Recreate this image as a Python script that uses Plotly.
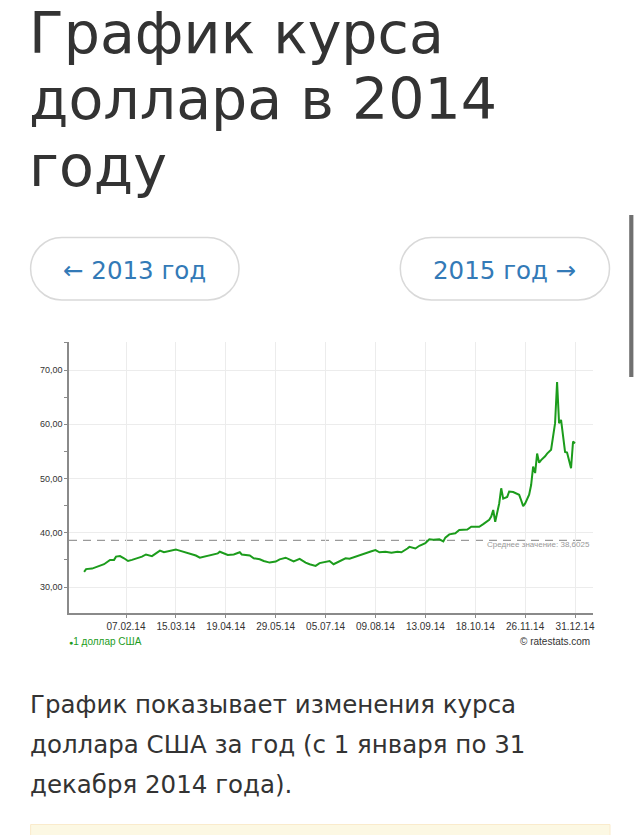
import plotly.graph_objects as go

# ---------------- data ----------------
day_index = [0, 1, 4, 6, 10, 13, 15, 16, 18, 20, 22, 24, 26, 29, 31, 34, 36, 38, 40, 43,
             46, 47, 50, 53, 56, 58, 61, 64, 67, 68, 70, 72, 75, 78, 79, 83, 85, 88, 90, 93,
             96, 98, 101, 103, 105, 108, 111, 113, 116, 118, 121, 123, 125, 128, 131, 133, 136, 138, 142, 144,
             146, 148, 151, 154, 157, 159, 162, 163, 166, 168, 171, 173, 175, 178, 180, 181, 183, 186, 188, 192,
             194, 197, 198, 200, 203, 204, 205, 206, 208, 209, 210, 212, 213, 215, 218, 219, 220, 221, 223, 224,
             225, 226, 227, 228, 229, 231, 232, 234, 235, 236, 237, 238, 239, 240, 241, 242, 243, 244, 245, 246]
usd_rub = [32.8, 33.3, 33.4, 33.7, 34.2, 35.0, 35.0, 35.6, 35.7, 35.3, 34.8, 35.0, 35.2, 35.6, 36.0, 35.7, 36.2, 36.7, 36.4, 36.6,
           36.9, 36.8, 36.5, 36.2, 35.8, 35.4, 35.7, 36.0, 36.2, 36.5, 36.2, 35.9, 36.0, 36.4, 36.0, 35.8, 35.3, 35.1, 34.8, 34.5,
           34.7, 35.1, 35.4, 35.0, 34.7, 35.2, 34.5, 34.2, 33.9, 34.4, 34.7, 34.8, 34.2, 34.7, 35.3, 35.2, 35.6, 35.9, 36.3, 36.6,
           36.8, 36.4, 36.5, 36.3, 36.5, 36.4, 37.1, 37.4, 37.1, 37.6, 38.1, 38.8, 38.7, 38.8, 38.4, 39.1, 39.7, 39.9, 40.5, 40.6,
           41.1, 41.2, 41.1, 41.6, 42.4, 43.0, 44.2, 42.0, 45.4, 48.2, 46.3, 46.6, 47.6, 47.5, 47.0, 46.0, 44.9, 45.4, 47.0, 48.8,
           52.2, 51.0, 54.6, 52.9, 53.4, 54.1, 54.6, 55.3, 57.7, 60.2, 67.8, 60.2, 60.8, 57.7, 54.9, 54.8, 53.1, 51.9, 56.8, 56.5]

tick_index = [21, 46, 71, 96, 121, 146, 171, 196, 221, 246]
tick_dates = ["07.02.14", "15.03.14", "19.04.14", "29.05.14", "05.07.14",
              "09.08.14", "13.09.14", "18.10.14", "26.11.14", "31.12.14"]
y_ticks = [30, 40, 50, 60, 70]
y_tick_labels = ["30,00", "40,00", "50,00", "60,00", "70,00"]
average_value = 38.6025
average_label = "Среднее значение: 38,6025"
series_name = "1 доллар США"

title_lines = ["График курса", "доллара в 2014", "году"]
prev_button = "← 2013 год"
next_button = "2015 год →"
paragraph_lines = ["График показывает изменения курса",
                   "доллара США за год (с 1 января по 31",
                   "декабря 2014 года)."]
credit = "© ratestats.com"

# ---------------- layout helpers ----------------
W, H = 640, 835
FONT = "Liberation Sans, Arial, sans-serif"
PAGE_FONT = "DejaVu Sans, Liberation Sans, sans-serif"
GREEN = "#1c9c1c"


def px(x):
    return x / W


def py(y):
    return 1 - y / H


def pill_path(x0, y0, x1, y1):
    r = (y1 - y0) / 2
    yc = (y0 + y1) / 2
    k = 0.5523 * r
    pts = [
        ("M", [(x0 + r, y0)]),
        ("L", [(x1 - r, y0)]),
        ("C", [(x1 - r + k, y0), (x1, yc - k), (x1, yc)]),
        ("C", [(x1, yc + k), (x1 - r + k, y1), (x1 - r, y1)]),
        ("L", [(x0 + r, y1)]),
        ("C", [(x0 + r - k, y1), (x0, yc + k), (x0, yc)]),
        ("C", [(x0, yc - k), (x0 + r - k, y0), (x0 + r, y0)]),
    ]
    s = ""
    for cmd, ps in pts:
        s += cmd + " " + " ".join(f"{px(a):.5f},{py(b):.5f}" for a, b in ps) + " "
    return s + "Z"


fig = go.Figure()
fig.add_trace(go.Scatter(
    x=day_index, y=usd_rub, mode="lines",
    line=dict(color=GREEN, width=2),
    showlegend=False, hoverinfo="skip",
))

plot_l, plot_r, plot_t, plot_b = 69, 593, 342, 613

fig.update_layout(
    width=W, height=H,
    margin=dict(l=0, r=0, t=0, b=0),
    paper_bgcolor="white", plot_bgcolor="white",
    showlegend=False,
    xaxis=dict(
        domain=[px(plot_l), px(plot_r)],
        range=[-7.57, 255.0],
        tickmode="array", tickvals=tick_index, ticktext=tick_dates,
        showgrid=True, gridcolor="#ececec", gridwidth=1,
        showline=True, linecolor="#8a8a8a", linewidth=1.5,
        ticks="outside", ticklen=3, tickcolor="#8a8a8a",
        tickfont=dict(family=FONT, size=10, color="#333333"),
        zeroline=False, automargin=False, fixedrange=True,
    ),
    yaxis=dict(
        domain=[py(plot_b), py(plot_t)],
        range=[25.21, 75.16],
        tickmode="array", tickvals=y_ticks, ticktext=y_tick_labels,
        showgrid=True, gridcolor="#ececec", gridwidth=1,
        showline=True, linecolor="#8a8a8a", linewidth=1.5,
        ticks="outside", ticklen=3, tickcolor="#8a8a8a",
        minor=dict(tickmode="linear", tick0=0, dtick=5, ticks="outside",
                   ticklen=3, tickcolor="#8a8a8a", showgrid=False),
        tickfont=dict(family=FONT, size=9, color="#333333"),
        zeroline=False, automargin=False, fixedrange=True,
    ),
)

shapes = []
# average dashed line
shapes.append(dict(type="line", xref="x domain", yref="y",
                   x0=0, x1=(581.7 - plot_l) / (plot_r - plot_l),
                   y0=average_value, y1=average_value, layer="below",
                   line=dict(color="#9a9a9a", width=1.2, dash="8px,6px")))
# buttons
for (x0, x1) in [(30.6, 239.0), (400.3, 609.5)]:
    shapes.append(dict(type="path", xref="paper", yref="paper",
                       path=pill_path(x0, 237.5, x1, 300.0),
                       line=dict(color="#d9d9d9", width=1.5),
                       fillcolor="rgba(255,255,255,0)"))
# scrollbar
shapes.append(dict(type="rect", xref="paper", yref="paper",
                   x0=px(629.2), x1=px(633.4), y0=py(377.0), y1=py(215.0),
                   line=dict(width=0), fillcolor="#707070"))
# bottom notice box
shapes.append(dict(type="rect", xref="paper", yref="paper",
                   x0=px(30.6), x1=px(610), y0=py(824.5), y1=py(840),
                   line=dict(color="#faebcc", width=1), fillcolor="#fcf8e3"))
fig.update_layout(shapes=shapes)

ann = []


def text(t, x, y, size, color, xanchor="left", family=FONT):
    ann.append(dict(text=t, x=px(x), y=py(y), xref="paper", yref="paper",
                    xanchor=xanchor, yanchor="middle", showarrow=False,
                    borderpad=0, borderwidth=0,
                    font=dict(family=family, size=size, color=color)))


# title
for i, line in enumerate(title_lines):
    text(line, 29, 33.0 + i * 66.3, 57, "#333333", family=PAGE_FONT)
# buttons text
text(prev_button, 134.8, 270, 24.5, "#337ab7", xanchor="center", family=PAGE_FONT)
text(next_button, 504.9, 270, 24.5, "#337ab7", xanchor="center", family=PAGE_FONT)
# chart extras
text(average_label, 589.5, 544, 8, "#999999", xanchor="right")
text("<span style='font-size:7px'>●</span>" + series_name, 68.5, 641, 10, GREEN)
text(credit, 589.5, 641, 10, "#333333", xanchor="right")
# paragraph
for i, line in enumerate(paragraph_lines):
    text(line, 29.5, 704.5 + i * 40, 24.5, "#333333", family=PAGE_FONT)

fig.update_layout(annotations=ann)

fig.write_html("out.html", config={"displayModeBar": False},
               post_script="document.body.style.margin='0px';document.body.style.overflow='hidden';")
